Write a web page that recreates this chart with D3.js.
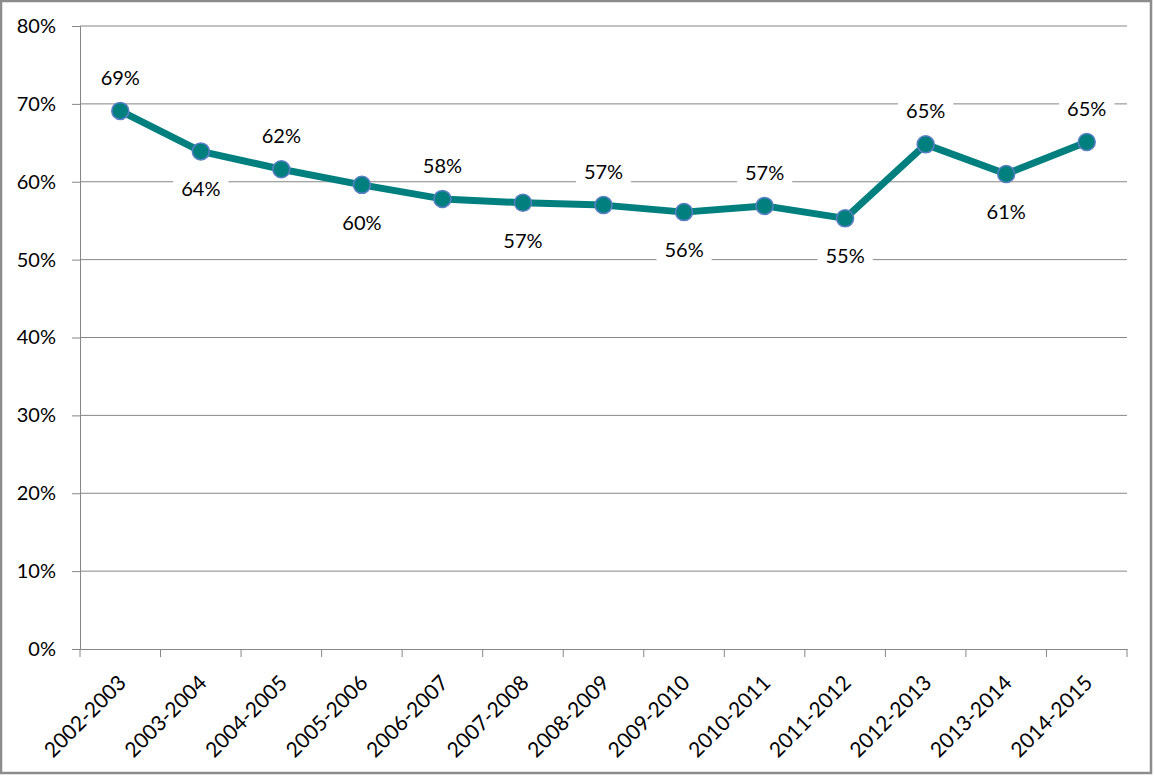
<!DOCTYPE html>
<html><head><meta charset="utf-8">
<script src="https://cdn.jsdelivr.net/npm/d3@7"></script>
<style>
html,body{margin:0;padding:0;background:#fff;}
svg{display:block;}
text{font-family:Lato,"Open Sans",sans-serif;fill:#000;}
</style></head>
<body>
<script>
const categories = ["2002-2003","2003-2004","2004-2005","2005-2006","2006-2007","2007-2008","2008-2009","2009-2010","2010-2011","2011-2012","2012-2013","2013-2014","2014-2015"];
const values = [0.691,0.639,0.616,0.596,0.578,0.573,0.570,0.561,0.569,0.553,0.648,0.610,0.651];
const labels = ["69%","64%","62%","60%","58%","57%","57%","56%","57%","55%","65%","61%","65%"];
const labelSide = ["above","below","above","below","above","below","above","below","above","below","above","below","above"];
const yTicks = [0,0.1,0.2,0.3,0.4,0.5,0.6,0.7,0.8];

const W = 1155, H = 776;
const m = {left:80, right:1127, top:26, bottom:649};
const svg = d3.select("body").append("svg").attr("width",W).attr("height",H);

svg.append("rect").attr("x",1).attr("y",1).attr("width",1150).attr("height",772)
  .attr("fill","#fff").attr("stroke","#8c8c8c").attr("stroke-width",2.5);

const x = d3.scaleBand().domain(categories).range([m.left,m.right]);
const y = d3.scaleLinear().domain([0,0.8]).range([m.bottom,m.top]);

// gridlines
svg.append("g").selectAll("line").data(yTicks.filter(d=>d>0)).join("line")
  .attr("x1",m.left).attr("x2",m.right)
  .attr("y1",d=>y(d)).attr("y2",d=>y(d))
  .attr("stroke","#868686").attr("stroke-width",1);

// y axis
const yAxis = svg.append("g").attr("transform",`translate(${m.left},0)`)
  .call(d3.axisLeft(y).tickValues(yTicks).tickFormat(d3.format(".0%")).tickSize(8).tickPadding(16));
yAxis.select(".domain").attr("stroke","#868686");
yAxis.selectAll(".tick line").attr("stroke","#868686");
yAxis.selectAll("text").style("font-size","20px").style("font-family","Lato, 'Open Sans', sans-serif");

// x axis
const xAxis = svg.append("g").attr("transform",`translate(0,${m.bottom})`)
  .call(d3.axisBottom(x).tickSize(0).tickFormat(""));
xAxis.select(".domain").attr("stroke","#868686");
const bounds = categories.map(c=>x(c)).concat([m.right]);
svg.append("g").selectAll("line").data(bounds).join("line")
  .attr("x1",d=>d).attr("x2",d=>d).attr("y1",m.bottom).attr("y2",m.bottom+8)
  .attr("stroke","#868686");
svg.append("g").selectAll("text").data(categories).join("text")
  .attr("transform",d=>`translate(${x(d)+x.bandwidth()/2+2},${m.bottom+30}) rotate(-45)`)
  .attr("text-anchor","end").attr("dy","0.35em")
  .style("font-size","21px").text(d=>d);

// line
const cx = (d,i)=>x(categories[i])+x.bandwidth()/2;
const line = d3.line().x((d,i)=>cx(d,i)).y(d=>y(d));
svg.append("path").datum(values).attr("d",line)
  .attr("fill","none").attr("stroke","#007f7f").attr("stroke-width",7).attr("stroke-linejoin","round");

svg.append("g").selectAll("circle").data(values).join("circle")
  .attr("cx",cx).attr("cy",d=>y(d)).attr("r",8.5)
  .attr("fill","#007f7f").attr("stroke","#5b7fc4").attr("stroke-width",1.5);

// data labels
const lg = svg.append("g").selectAll("g").data(values).join("g")
  .attr("transform",(d,i)=>`translate(${cx(d,i)},${y(d)+(labelSide[i]==="above"?-33:38)})`);
lg.append("rect").attr("fill","#fff");
lg.append("text").attr("text-anchor","middle").attr("dy","0.35em")
  .style("font-size","20px").text((d,i)=>labels[i]);
lg.each(function(){
  const g = d3.select(this);
  const b = g.select("text").node().getBBox();
  g.select("rect").attr("x",b.x-8).attr("y",b.y-3).attr("width",b.width+16).attr("height",b.height+6);
});
</script>
</body></html>
